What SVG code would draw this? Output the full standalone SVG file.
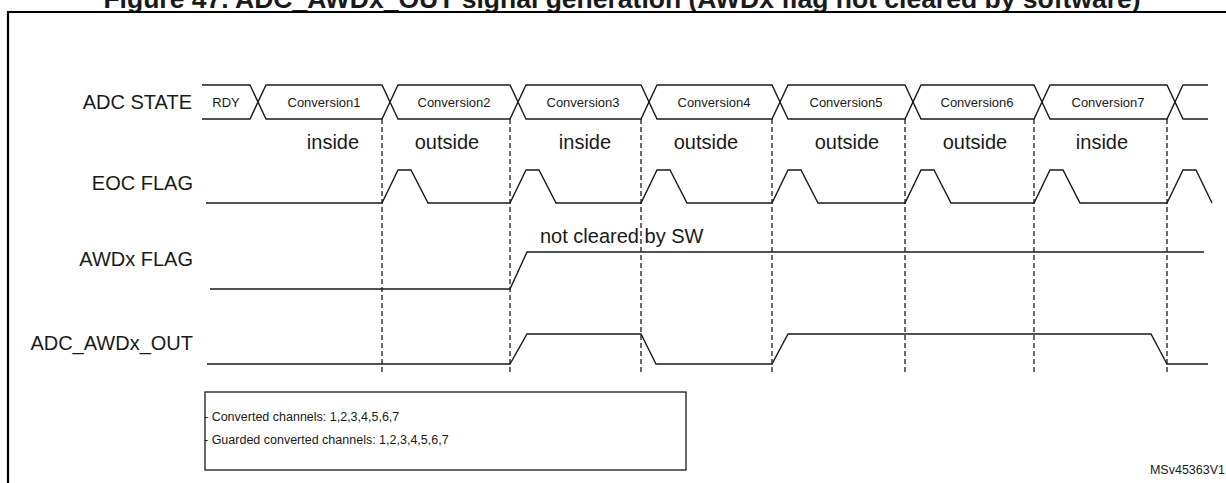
<svg xmlns="http://www.w3.org/2000/svg" width="1226" height="483" viewBox="0 0 1226 483">
<style>
.t{font-family:"Liberation Sans",Arial,sans-serif;fill:#1a1a1a}
.lbl{font-size:20px;text-anchor:end}
.win{font-size:20px;text-anchor:middle}
.bus{font-size:13px;text-anchor:middle}
.note{font-size:12.5px}
.sig{fill:none;stroke:#1a1a1a;stroke-width:1.4;stroke-linejoin:miter}
.dash{fill:none;stroke:#1a1a1a;stroke-width:1.3;stroke-dasharray:5,3}
</style>
<rect width="1226" height="483" fill="#fff"/>
<text class="t" x="622" y="8" font-size="26.5" font-weight="bold" text-anchor="middle" fill="#000">Figure 47. ADC_AWDx_OUT signal generation (AWDx flag not cleared by software)</text>
<path d="M1230,12 H8 V490" fill="none" stroke="#000" stroke-width="2.2"/>

<g id="guides">
<path class="dash" d="M382,119 V372 M510,119 V372 M641,119 V372 M772,119 V372 M905,119 V372 M1034,119 V372 M1167,119 V372"/>
</g>

<g id="adc_state">
<text class="t lbl" x="192" y="109">ADC STATE</text>
<path class="sig" d="M202,85 H250 L266,119 H382 L398,85 H510 L526,119 H641 L657,85 H772 L788,119 H905 L921,85 H1034 L1050,119 H1167 L1183,85 H1208"/>
<path class="sig" d="M202,119 H250 L266,85 H382 L398,119 H510 L526,85 H641 L657,119 H772 L788,85 H905 L921,119 H1034 L1050,85 H1167 L1183,119 H1208"/>
<text class="t bus" x="226" y="107">RDY</text>
<text class="t bus" x="324" y="107">Conversion1</text>
<text class="t bus" x="454" y="107">Conversion2</text>
<text class="t bus" x="583" y="107">Conversion3</text>
<text class="t bus" x="714" y="107">Conversion4</text>
<text class="t bus" x="846" y="107">Conversion5</text>
<text class="t bus" x="977" y="107">Conversion6</text>
<text class="t bus" x="1108" y="107">Conversion7</text>
</g>

<g id="window">
<text class="t win" x="333" y="149">inside</text>
<text class="t win" x="447" y="149">outside</text>
<text class="t win" x="585" y="149">inside</text>
<text class="t win" x="706" y="149">outside</text>
<text class="t win" x="847" y="149">outside</text>
<text class="t win" x="975" y="149">outside</text>
<text class="t win" x="1102" y="149">inside</text>
</g>

<g id="eoc_flag">
<text class="t lbl" x="193" y="190">EOC FLAG</text>
<path class="sig" d="M206,203 H382 L398,170 H411 L428,203 H510 L526,170 H539 L556,203 H641 L657,170 H670 L687,203 H772 L788,170 H801 L818,203 H905 L921,170 H934 L951,203 H1034 L1050,170 H1063 L1080,203 H1167 L1183,170 H1196 L1212,203"/>
</g>

<g id="awdx_flag">
<text class="t lbl" x="193" y="266">AWDx FLAG</text>
<text class="t" x="540" y="243" font-size="20">not cleared by SW</text>
<path class="sig" d="M210,289 H510 L527,252 H1204"/>
</g>

<g id="adc_awdx_out">
<text class="t lbl" x="193" y="350">ADC_AWDx_OUT</text>
<path class="sig" d="M207,364 H510 L527,334 H641 L656,364 H772 L788,334 H1151 L1167,364 H1208"/>
</g>

<g id="note">
<rect x="205" y="392" width="481" height="78" fill="#fff" stroke="#1a1a1a" stroke-width="1.3"/>
<text class="t note" x="204" y="421">- Converted channels: 1,2,3,4,5,6,7</text>
<text class="t note" x="204" y="444">- Guarded converted channels: 1,2,3,4,5,6,7</text>
</g>

<text class="t" x="1225" y="474" font-size="12.5" text-anchor="end">MSv45363V1</text>
</svg>
